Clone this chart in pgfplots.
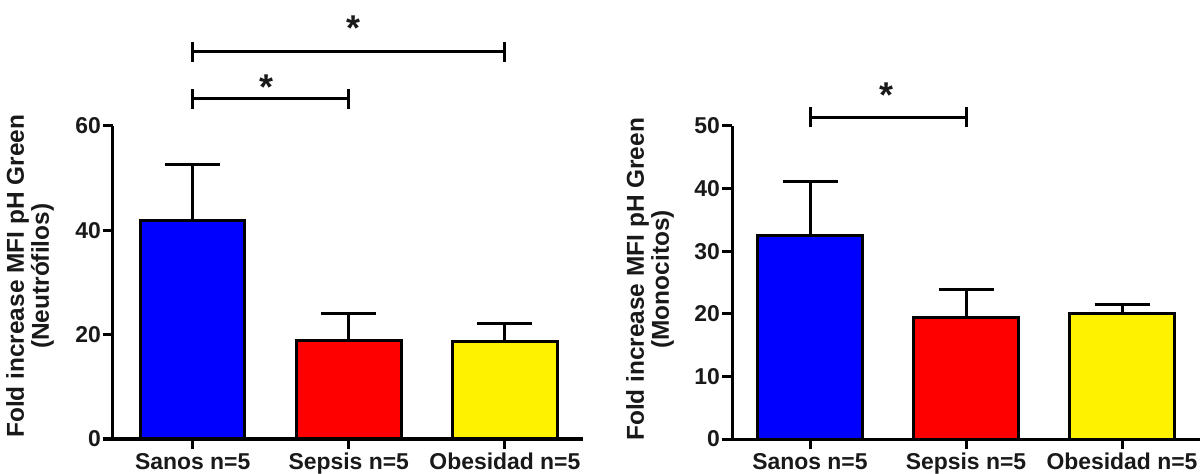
\documentclass[border=0pt]{standalone}
\usepackage{fontspec}
\setmainfont{Liberation Sans}
\usepackage{pgfplots}
\pgfplotsset{compat=1.18}
\definecolor{txt}{RGB}{25,25,25}
\tikzset{sigstar/.style={font=\fontsize{36}{36}\selectfont\bfseries,text=txt,yshift=-5bp}}
\pgfplotsset{
  common/.style={
    scale only axis,
    anchor=south west,
    axis x line*=bottom,
    axis y line*=left,
    axis line style={line width=3bp,-,black},
    tick style={line width=3bp,black},
    major tick length=10bp,
    tick align=outside,
    xtick={0,1,2},
    xticklabels={Sanos n=5,Sepsis n=5,Obesidad n=5},
    ybar,
    bar width=0.67,
    bar shift=0pt,
    clip=false,
    ymin=0,
    enlargelimits=false,
    /pgf/number format/assume math mode=true,
    ylabel style={align=center,anchor=center,text=txt,font=\fontsize{24.5}{25}\selectfont\bfseries},
    yticklabel style={inner sep=2bp,text=txt},
    xticklabel style={text=txt,inner sep=4bp},
  },
  bars/.style={draw=black,line width=3bp,
    error bars/y dir=plus, error bars/y explicit,
    error bars/error bar style={line width=3bp,black,solid},
    error bars/error mark options={rotate=90,mark size=27.5bp,line width=3bp,black}},
  brk/.style={black,line width=3bp,sharp plot,mark=none,forget plot},
}
\begin{document}
\begin{tikzpicture}[font=\fontsize{23}{25}\selectfont\bfseries]
\useasboundingbox (-113bp,-35bp) rectangle (1089bp,439bp);
% ---------- Left: Neutrofilos ----------
\begin{axis}[common, at={(0bp,0bp)}, width=470bp, height=313bp,
  xmin=-0.51, xmax=2.5, ymax=60, ytick={0,20,40,60},
  ylabel={Fold increase MFI pH Green\\(Neutrófilos)},
  ylabel style={at={(axis description cs:0,0.52)},yshift=83bp}]
\addplot[bars,fill=blue] coordinates {(0,41.8) +- (0,10.9)};
\addplot[bars,fill=red] coordinates {(1,18.8) +- (0,5.2)};
\addplot[bars,fill=yellow] coordinates {(2,18.6) +- (0,3.6)};
% bracket Sanos-Sepsis
\addplot[brk] coordinates {(0,65.2) (1,65.2)};
\addplot[brk] coordinates {(0,63.3) (0,67.1)};
\addplot[brk] coordinates {(1,63.3) (1,67.1)};
% bracket Sanos-Obesidad
\addplot[brk] coordinates {(0,74.2) (2,74.2)};
\addplot[brk] coordinates {(0,72.3) (0,76.1)};
\addplot[brk] coordinates {(2,72.3) (2,76.1)};
\node[sigstar] at (axis cs:0.47,68.4) {*};
\node[sigstar] at (axis cs:1.03,79.7) {*};
\end{axis}
% ---------- Right: Monocitos ----------
\begin{axis}[common, at={(619bp,0bp)}, width=468bp, height=313bp,
  xmin=-0.5, xmax=2.5, ymax=50, ytick={0,10,20,30,40,50},
  ylabel={Fold increase MFI pH Green\\(Monocitos)},
  ylabel style={at={(axis description cs:0,0.51)},yshift=82bp}]
\addplot[bars,fill=blue] coordinates {(0,32.5) +- (0,8.7)};
\addplot[bars,fill=red] coordinates {(1,19.4) +- (0,4.5)};
\addplot[bars,fill=yellow] coordinates {(2,20.0) +- (0,1.5)};
\addplot[brk] coordinates {(0,51.4) (1,51.4)};
\addplot[brk] coordinates {(0,49.8) (0,53.0)};
\addplot[brk] coordinates {(1,49.8) (1,53.0)};
\node[sigstar] at (axis cs:0.49,55.8) {*};
\end{axis}
\end{tikzpicture}
\end{document}
